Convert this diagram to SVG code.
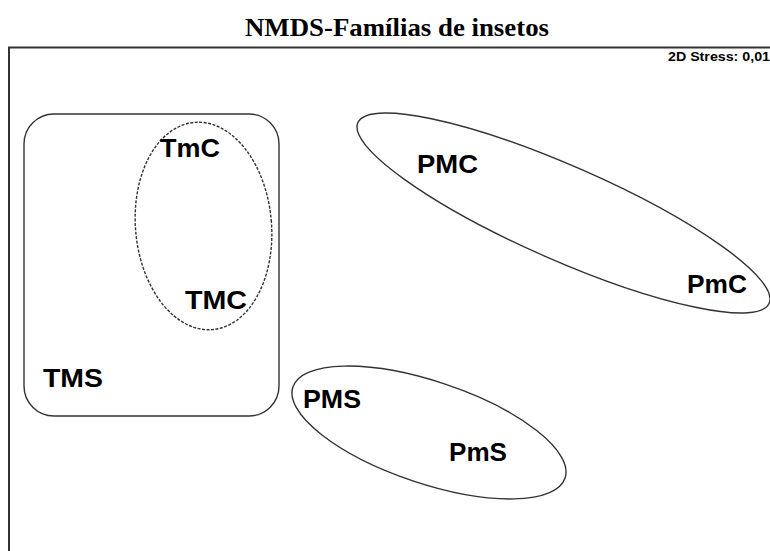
<svg xmlns="http://www.w3.org/2000/svg" width="770" height="551" viewBox="0 0 770 551">
<style>
.lbl{font-family:"Liberation Sans",Arial,sans-serif;font-weight:bold;font-size:26px;fill:#000}
.shape{fill:none;stroke:#333;stroke-width:1.4}
</style>
<rect x="0" y="0" width="770" height="551" fill="#fff"/>
<text x="245" y="36" textLength="304" lengthAdjust="spacingAndGlyphs" style="font-family:'Liberation Serif','Times New Roman',serif;font-weight:bold;font-size:26px">NMDS-Famílias de insetos</text>
<path d="M9,551 V47.5 H770" fill="none" stroke="#333" stroke-width="2"/>
<text x="668" y="61" textLength="102" lengthAdjust="spacingAndGlyphs" style="font-family:'Liberation Sans',Arial,sans-serif;font-weight:bold;font-size:12px">2D Stress: 0,01</text>
<g id="groups">
<g id="grupo-T"><rect class="shape" x="24" y="114" width="255" height="302" rx="30" ry="30"/></g>
<g id="grupo-TC"><ellipse class="shape" cx="203.5" cy="226" rx="68" ry="104" transform="rotate(-5 203.5 226)" stroke-dasharray="3 1.5" stroke="#444" stroke-width="1.4"/></g>
<g id="grupo-PC"><ellipse class="shape" cx="563.5" cy="213" rx="224.6" ry="47" transform="rotate(23.7 563.5 213)"/></g>
<g id="grupo-PS"><ellipse class="shape" cx="429" cy="432.5" rx="143.5" ry="51" transform="rotate(18.5 429 432.5)"/></g>
</g>
<g id="nodes">
<g id="TmC"><text class="lbl" x="160" y="157" textLength="60" lengthAdjust="spacingAndGlyphs">TmC</text></g>
<g id="TMC"><text class="lbl" x="185" y="309" textLength="62" lengthAdjust="spacingAndGlyphs">TMC</text></g>
<g id="TMS"><text class="lbl" x="43" y="387" textLength="60" lengthAdjust="spacingAndGlyphs">TMS</text></g>
<g id="PMC"><text class="lbl" x="417" y="173" textLength="61" lengthAdjust="spacingAndGlyphs">PMC</text></g>
<g id="PmC"><text class="lbl" x="687" y="293" textLength="60" lengthAdjust="spacingAndGlyphs">PmC</text></g>
<g id="PMS"><text class="lbl" x="303" y="408" textLength="58" lengthAdjust="spacingAndGlyphs">PMS</text></g>
<g id="PmS"><text class="lbl" x="449" y="461" textLength="58" lengthAdjust="spacingAndGlyphs">PmS</text></g>
</g>
<g id="connectors"/>
</svg>
